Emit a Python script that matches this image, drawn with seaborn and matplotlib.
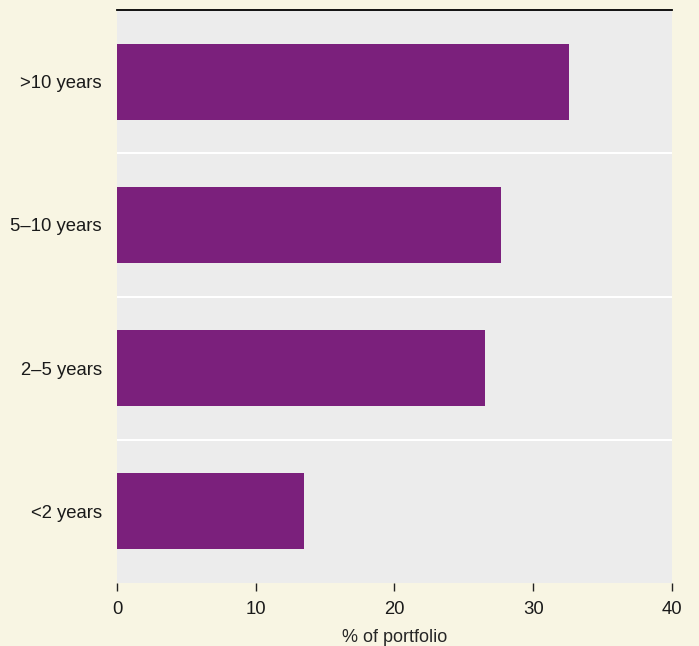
import matplotlib
matplotlib.use("Agg")
import matplotlib.pyplot as plt
import seaborn as sns
import pandas as pd

categories = [">10 years", "5\u201310 years", "2\u20135 years", "<2 years"]
values = [32.6, 27.7, 26.5, 13.5]
xticks = [0, 10, 20, 30, 40]

sns.set_theme(style="white")
plt.rcParams['font.family'] = ['Liberation Sans', 'DejaVu Sans']

bg = "#f8f5e3"
panel = "#ececec"
purple = "#7b207c"

fig = plt.figure(figsize=(6.99, 6.46), dpi=100, facecolor=bg)
ax = fig.add_axes([117/699, 1-583/646, (672-117)/699, (583-10)/646])
ax.set_facecolor(panel)

df = pd.DataFrame({"cat": categories, "val": values})
sns.barplot(data=df, x="val", y="cat", order=categories, color=purple,
            saturation=1, width=0.53, linewidth=0, ax=ax)

ax.set_xlim(0, 40)
ax.set_ylim(3.5, -0.5)
ax.set_xticks(xticks)
ax.set_xticklabels([str(t) for t in xticks])
for yy in [0.5, 1.5, 2.5]:
    ax.axhline(yy, color="white", lw=1.5, zorder=0.5)

for s in ["left", "right", "bottom"]:
    ax.spines[s].set_visible(False)
ax.spines["top"].set_visible(True)
ax.spines["top"].set_color("black")
ax.spines["top"].set_linewidth(1.3)

ax.tick_params(axis="x", direction="out", length=6, width=1, color="#222222",
               labelsize=13.3, pad=7, bottom=True)
ax.tick_params(axis="y", length=0, labelsize=13.3, pad=11)
ax.set_xlabel("% of portfolio", fontsize=13, labelpad=8)
ax.set_ylabel("")
for t in ax.get_xticklabels() + ax.get_yticklabels():
    t.set_color("#1a1a1a")

fig.savefig("out.png", dpi=100, facecolor=bg)
